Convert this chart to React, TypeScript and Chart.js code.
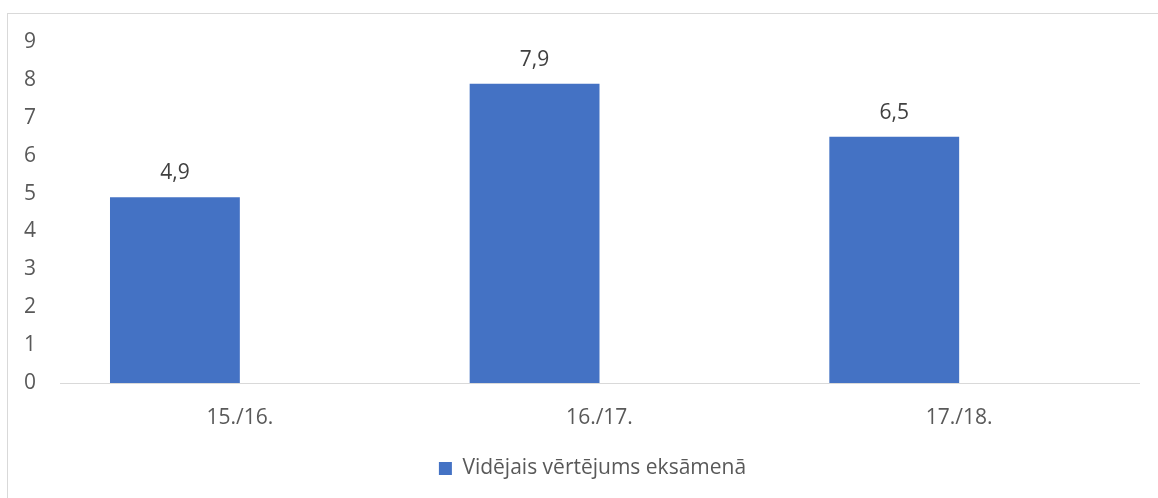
import React, { useEffect, useRef } from "react";
import { Chart, registerables } from "chart.js";

Chart.register(...registerables);

const categories = ["15./16.", "16./17.", "17./18."];
const values = [4.9, 7.9, 6.5];
const seriesName = "Vidējais vērtējums eksāmenā";
const yMin = 0;
const yMax = 9;
const yStep = 1;

const FONT = "'Open Sans', 'Noto Sans', sans-serif";
const TEXT = "#595959";
const BLUE = "#4472C4";
const FS = 21;

const dataLabelPlugin = {
  id: "dataLabels",
  afterLayout(chart: any) {
    const lg = chart.legend;
    if (lg) {
      lg.left += 19;
      lg.right += 19;
    }
  },
  afterDatasetsDraw(chart: any) {
    const ctx = chart.ctx;
    const meta = chart.getDatasetMeta(0);
    ctx.save();
    ctx.font = `${FS}px ${FONT}`;
    ctx.fillStyle = "#404040";
    ctx.textAlign = "center";
    ctx.textBaseline = "middle";
    meta.data.forEach((bar: any, i: number) => {
      const v = values[i];
      ctx.fillText(String(v).replace(".", ","), bar.x, bar.y - 24);
    });
    ctx.restore();
  },
};

export default function App() {
  const ref = useRef<HTMLCanvasElement | null>(null);
  useEffect(() => {
    if (!ref.current) return;
    const chart = new Chart(ref.current, {
      type: "bar",
      data: {
        labels: categories,
        datasets: [
          {
            label: seriesName,
            data: values,
            backgroundColor: BLUE,
            borderWidth: 0,
            categoryPercentage: 0.722,
            barPercentage: 1,
          },
          {
            label: "",
            data: [null, null, null],
            backgroundColor: "rgba(0,0,0,0)",
            categoryPercentage: 0.722,
            barPercentage: 1,
          },
        ],
      },
      options: {
        animation: false,
        responsive: true,
        maintainAspectRatio: false,
        layout: { padding: { left: 8, right: 19, top: 42, bottom: 9 } },
        plugins: {
          tooltip: { enabled: false },
          legend: {
            position: "bottom",
            labels: {
              filter: (item: any) => item.datasetIndex === 0,
              boxWidth: 13,
              boxHeight: 13,
              padding: 10,
              color: TEXT,
              font: { family: FONT, size: FS },
            },
          },
        },
        scales: {
          x: {
            grid: { display: false, drawTicks: false },
            border: { display: true, color: "#d9d9d9", width: 1 },
            ticks: { color: TEXT, font: { family: FONT, size: FS }, padding: 22 },
            afterFit: (s: any) => {
              s.height = 65;
            },
          },
          y: {
            min: yMin,
            max: yMax,
            grid: { display: false, drawTicks: false },
            border: { display: false },
            ticks: {
              stepSize: yStep,
              color: TEXT,
              font: { family: FONT, size: FS },
              padding: 24,
            },
            afterFit: (s: any) => {
              s.width = 52;
            },
          },
        },
      },
      plugins: [dataLabelPlugin],
    });
    return () => chart.destroy();
  }, []);

  return (
    <div
      style={{
        position: "fixed",
        left: 0,
        top: 0,
        width: 1158,
        height: 498,
        overflow: "hidden",
        background: "#fff",
      }}
    >
      <div
        style={{
          position: "absolute",
          left: 7,
          top: 13,
          width: 1170,
          height: 510,
          border: "1px solid #d9d9d9",
          boxSizing: "border-box",
        }}
      />
      <canvas
        ref={ref}
        style={{ position: "absolute", left: 0, top: 0, width: 1158, height: 498 }}
      />
    </div>
  );
}
